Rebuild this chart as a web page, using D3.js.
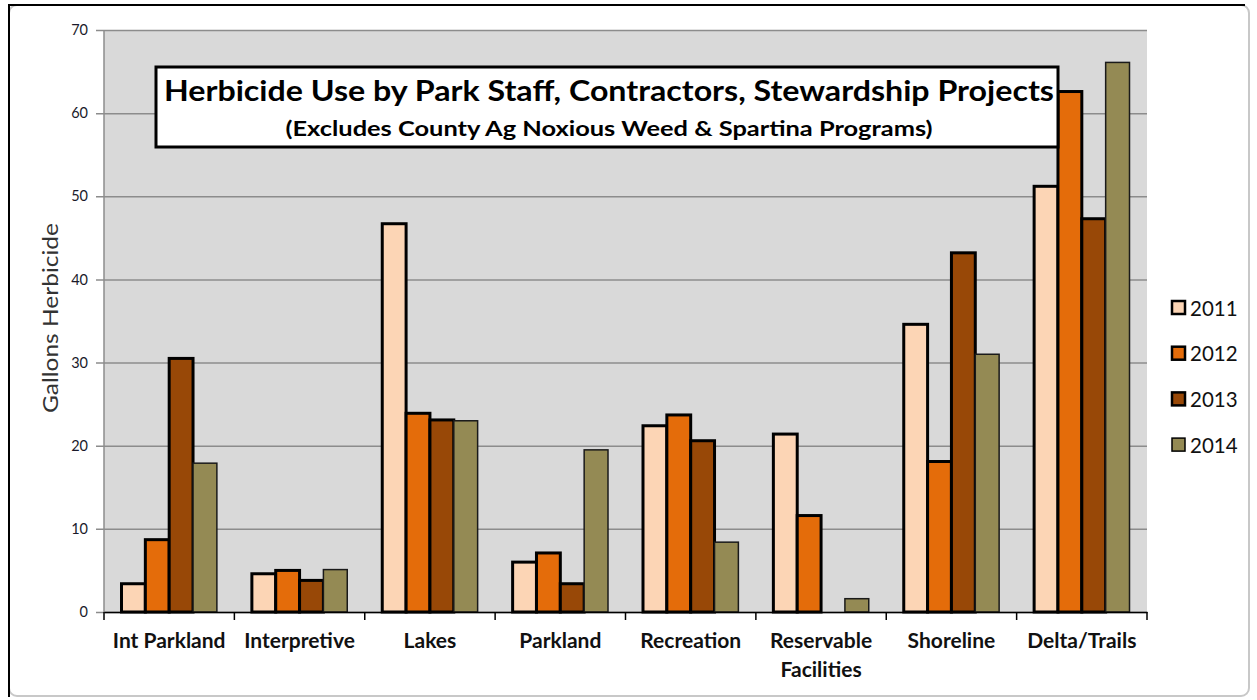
<!DOCTYPE html>
<html>
<head>
<meta charset="utf-8">
<script src="https://cdn.jsdelivr.net/npm/d3@7/dist/d3.min.js"></script>
<style>
  html, body { margin: 0; padding: 0; background: #fff; }
  svg { display: block; }
  text { font-family: Lato, "Open Sans", sans-serif; }
</style>
</head>
<body>
<svg id="chart" width="1257" height="700"></svg>
<script>
// Herbicide use (gallons) per park category, by year
const categories = ["Int Parkland", "Interpretive", "Lakes", "Parkland", "Recreation", "Reservable\nFacilities", "Shoreline", "Delta/Trails"];
const years = ["2011", "2012", "2013", "2014"];
const values2011 = [3.4, 4.6, 46.7, 6.0, 22.4, 21.4, 34.6, 51.2];
const values2012 = [8.7, 5.0, 23.9, 7.1, 23.7, 11.6, 18.1, 62.6];
const values2013 = [30.5, 3.8, 23.1, 3.4, 20.6, 0, 43.2, 47.3];
const values2014 = [17.9, 5.1, 23.0, 19.5, 8.4, 1.6, 31.0, 66.1];
const yTicks = [0, 10, 20, 30, 40, 50, 60, 70];
const colors = ["#FCD5B5", "#E46C0A", "#984807", "#948A54"];

const series = [values2011, values2012, values2013, values2014];

const svg = d3.select("#chart");
const plot = { left: 104, right: 1147, top: 30, bottom: 612 };

// chart frame
svg.append("rect")
  .attr("x", 9).attr("y", 5).attr("width", 1240).attr("height", 691)
  .attr("rx", 8).attr("fill", "#fff").attr("stroke", "#c8c8c8").attr("stroke-width", 2);
svg.append("path")
  .attr("d", "M9,697 L9,5 L1245,5")
  .attr("fill", "none").attr("stroke", "#000").attr("stroke-width", 2);

const x0 = d3.scaleBand().domain(categories).range([plot.left, plot.right]).paddingInner(0).paddingOuter(0);
const x1 = d3.scaleBand().domain(years).range([17.5, x0.bandwidth() - 17.5]).padding(0);
const y = d3.scaleLinear().domain([0, 70]).range([plot.bottom, plot.top]);

// plot background
svg.append("rect")
  .attr("x", plot.left).attr("y", plot.top)
  .attr("width", plot.right - plot.left).attr("height", plot.bottom - plot.top)
  .attr("fill", "#D9D9D9");

// gridlines and y axis
const yAxis = d3.axisLeft(y).tickValues(yTicks).tickSize(plot.right - plot.left + 8).tickPadding(8);
const gy = svg.append("g").attr("transform", `translate(${plot.right},0)`).call(yAxis);
gy.select(".domain").remove();
gy.selectAll(".tick line").attr("stroke", "#8C8C8C").attr("stroke-width", 1.5);
gy.selectAll(".tick text").attr("fill", "#1a1a2a").attr("font-size", 14.5);

svg.append("line")
  .attr("x1", plot.left).attr("x2", plot.left).attr("y1", plot.top).attr("y2", plot.bottom)
  .attr("stroke", "#8C8C8C").attr("stroke-width", 1.5);

// bars
const groups = svg.append("g").selectAll("g")
  .data(categories)
  .join("g")
  .attr("transform", d => `translate(${x0(d)},0)`);

groups.selectAll("rect")
  .data((d, i) => years.map((yr, s) => ({ yr, s, v: series[s][i] })).filter(e => e.v > 0))
  .join("rect")
  .attr("x", d => x1(d.yr))
  .attr("y", d => y(d.v))
  .attr("width", x1.bandwidth())
  .attr("height", d => y(0) - y(d.v))
  .attr("fill", d => colors[d.s])
  .attr("stroke", d => d.s === 3 ? "#1a1a1a" : "#000")
  .attr("stroke-width", d => d.s === 3 ? 1.5 : 3);

// x axis
const xAxis = d3.axisBottom(x0).tickSize(0).tickFormat("");
const gx = svg.append("g").attr("transform", `translate(0,${plot.bottom})`).call(xAxis);
gx.select(".domain").attr("stroke", "#000").attr("stroke-width", 1.5);
const boundaries = categories.map(c => x0(c)).concat([plot.right]);
gx.selectAll(".bound").data(boundaries).join("line")
  .attr("x1", d => d).attr("x2", d => d).attr("y1", 0).attr("y2", 8)
  .attr("stroke", "#000").attr("stroke-width", 1.5);

const labels = svg.append("g").selectAll("text")
  .data(categories)
  .join("text")
  .attr("x", d => x0(d) + x0.bandwidth() / 2)
  .attr("y", 648)
  .attr("text-anchor", "middle")
  .attr("font-size", 21).attr("font-weight", "bold").attr("fill", "#111");
labels.selectAll("tspan")
  .data(d => d.split("\n"))
  .join("tspan")
  .attr("x", function() { return this.parentNode.getAttribute("x"); })
  .attr("dy", (d, i) => i === 0 ? 0 : 29)
  .text(d => d);

// y axis title
svg.append("text")
  .attr("transform", "translate(58,318) rotate(-90)")
  .attr("text-anchor", "middle")
  .attr("font-size", 21).attr("fill", "#333")
  .attr("textLength", 190).attr("lengthAdjust", "spacingAndGlyphs")
  .text("Gallons Herbicide");

// title box
svg.append("rect")
  .attr("x", 156).attr("y", 67).attr("width", 902).attr("height", 80)
  .attr("fill", "#fff").attr("stroke", "#000").attr("stroke-width", 3);
svg.append("text")
  .attr("x", 609).attr("y", 101)
  .attr("text-anchor", "middle").attr("font-size", 29).attr("font-weight", "bold").attr("fill", "#000")
  .attr("textLength", 890).attr("lengthAdjust", "spacingAndGlyphs")
  .text("Herbicide Use by Park Staff, Contractors, Stewardship Projects");
svg.append("text")
  .attr("x", 609).attr("y", 136)
  .attr("text-anchor", "middle").attr("font-size", 21).attr("font-weight", "bold").attr("fill", "#000")
  .attr("textLength", 647).attr("lengthAdjust", "spacingAndGlyphs")
  .text("(Excludes County Ag Noxious Weed & Spartina Programs)");

// legend
const legend = svg.append("g").selectAll("g")
  .data(years)
  .join("g")
  .attr("transform", (d, i) => `translate(1172,${301 + i * 45.7})`);
legend.append("rect")
  .attr("width", 13).attr("height", 13)
  .attr("fill", (d, i) => colors[i])
  .attr("stroke", "#000").attr("stroke-width", (d, i) => i === 3 ? 1.5 : 2.5);
legend.append("text")
  .attr("x", 18).attr("y", 14.5)
  .attr("font-size", 20.5).attr("fill", "#111")
  .text(d => d);
</script>
</body>
</html>
